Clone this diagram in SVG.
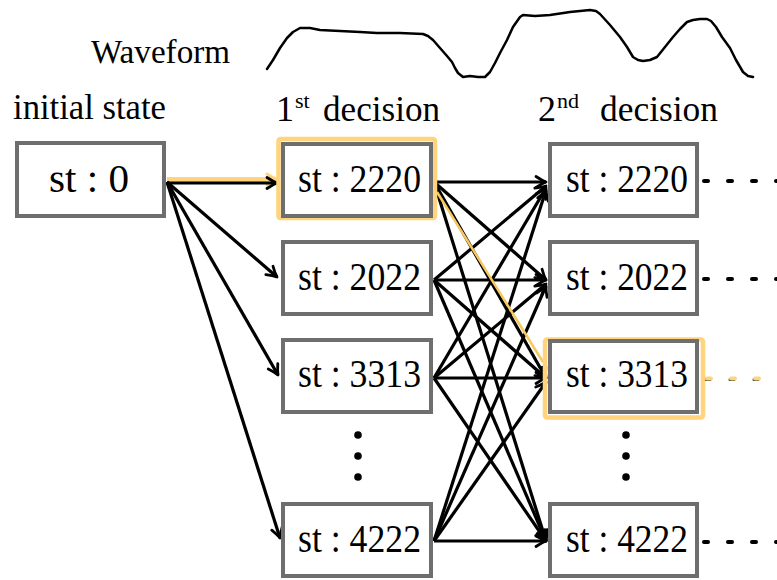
<svg xmlns="http://www.w3.org/2000/svg" width="777" height="580" viewBox="0 0 777 580">
<defs>
<style>
.box{fill:#fff;stroke:#6e6e6e;stroke-width:4}
.hl{fill:none;stroke:#ffd47c;stroke-width:4.5}
.t{font-family:"Liberation Serif","Times New Roman",serif;fill:#000}
.st{font-size:39px;text-anchor:middle}
.lab{font-size:36px}
.sup{font-size:22px}
.e{stroke:#000;stroke-width:3.2;fill:none;marker-end:url(#ah)}
.dots{stroke:#000;stroke-width:4;stroke-linecap:round;stroke-dasharray:4 20;fill:none}
</style>
<marker id="ah" markerUnits="userSpaceOnUse" markerWidth="16" markerHeight="16" refX="12" refY="7" orient="auto" overflow="visible">
<path d="M2,1.5 Q8,5.5 12,7 Q8,8.5 2,12.5" fill="none" stroke="#000" stroke-width="2.8" stroke-linecap="round" stroke-linejoin="round"/>
</marker>
<marker id="ahy" markerUnits="userSpaceOnUse" markerWidth="16" markerHeight="16" refX="12" refY="7" orient="auto" overflow="visible">
<path d="M2,1.5 Q8,5.5 12,7 Q8,8.5 2,12.5" fill="none" stroke="#ffd47c" stroke-width="3" stroke-linecap="round" stroke-linejoin="round"/>
</marker>
</defs>
<rect width="777" height="580" fill="#fff"/>

<g id="waveform">
<text class="t" x="91" y="63" font-size="34" textLength="139" lengthAdjust="spacingAndGlyphs">Waveform</text>
<path d="M267,69 L273,60 L280,48 L287,38 L293,32 L300,28 L310,28 L320,30 L340,31 L360,32 L377,33 L400,33 L423,34 L428,36 L433,40 L440,48 L447,56 L452,62 L455,68 L458,73 L463,77 L470,76 L478,77 L485,77 L490,72 L495,63 L500,53 L507,40 L513,27 L520,17 L523,15 L535,16 L550,15 L570,12 L590,10 L596,11 L600,14 L610,25 L620,37 L627,47 L633,57 L638,60 L643,61 L650,60 L657,57 L665,47 L673,37 L680,29 L687,22 L693,20 L700,19 L707,19 L711,21 L716,27 L722,37 L730,48 L736,60 L743,72 L748,76 L753,77" fill="none" stroke="#000" stroke-width="2.5" stroke-linejoin="round" stroke-linecap="round"/>
</g>

<g id="labels">
<text class="t lab" x="276" y="121">1</text>
<text class="t sup" x="295" y="108">st</text>
<text class="t lab" x="323" y="121" textLength="117" lengthAdjust="spacingAndGlyphs">decision</text>
<text class="t lab" x="538" y="121">2</text>
<text class="t sup" x="557" y="108">nd</text>
<text class="t lab" x="600" y="121" textLength="118" lengthAdjust="spacingAndGlyphs">decision</text>
<text class="t lab" x="13" y="119" textLength="153" lengthAdjust="spacingAndGlyphs">initial state</text>
</g>

<g id="connectors">
<line x1="167" y1="179.5" x2="277" y2="179.5" stroke="#ffd47c" stroke-width="5" marker-end="url(#ahy)"/>
<line class="e" x1="167" y1="183" x2="277" y2="183"/>
<line class="e" x1="167" y1="182" x2="277" y2="277"/>
<line class="e" x1="167" y1="182" x2="278" y2="375"/>
<line class="e" x1="167" y1="182" x2="280" y2="538"/>

<line class="e" x1="434" y1="182" x2="546" y2="182"/>
<line class="e" x1="434" y1="182" x2="546" y2="280"/>
<line class="e" x1="434" y1="182" x2="546" y2="378"/>
<line class="e" x1="434" y1="182" x2="546" y2="541"/>

<line class="e" x1="434" y1="280" x2="546" y2="186"/>
<line class="e" x1="434" y1="280" x2="546" y2="280"/>
<line class="e" x1="434" y1="280" x2="546" y2="378"/>
<line class="e" x1="434" y1="280" x2="546" y2="541"/>

<line class="e" x1="434" y1="378" x2="546" y2="188"/>
<line class="e" x1="434" y1="378" x2="546" y2="284"/>
<line class="e" x1="434" y1="378" x2="546" y2="378"/>
<line class="e" x1="434" y1="378" x2="546" y2="541"/>

<line class="e" x1="434" y1="541" x2="546" y2="190"/>
<line class="e" x1="434" y1="541" x2="546" y2="286"/>
<line class="e" x1="434" y1="541" x2="546" y2="382"/>
<line class="e" x1="434" y1="541" x2="546" y2="541"/>

<line x1="437" y1="192" x2="543" y2="362" stroke="#f7c860" stroke-width="2.5"/>

<line class="dots" x1="704" y1="181" x2="777" y2="181"/>
<line class="dots" x1="704" y1="279" x2="777" y2="279"/>
<line class="dots" x1="704" y1="542" x2="777" y2="542"/>
<line x1="706" y1="379.5" x2="777" y2="379.5" stroke="#333" stroke-width="3" stroke-linecap="round" stroke-dasharray="4 20"/>
<line x1="707" y1="378.5" x2="777" y2="378.5" stroke="#ffd47c" stroke-width="4" stroke-linecap="round" stroke-dasharray="4 20"/>
</g>

<g id="n0">
<rect class="box" x="17" y="143" width="147" height="73"/>
<text class="t st" x="89" y="192" textLength="80" lengthAdjust="spacingAndGlyphs">st : 0</text>
</g>

<g id="n1-2220">
<rect class="hl" x="278.5" y="139" width="156.5" height="79" rx="2"/>
<rect class="box" x="283" y="144" width="148" height="72"/>
<text class="t st" x="359.5" y="192" textLength="123" lengthAdjust="spacingAndGlyphs">st : 2220</text>
</g>
<g id="n1-2022">
<rect class="box" x="283" y="242" width="148" height="72"/>
<text class="t st" x="359.5" y="290" textLength="123" lengthAdjust="spacingAndGlyphs">st : 2022</text>
</g>
<g id="n1-3313">
<rect class="box" x="283" y="340" width="148" height="72"/>
<text class="t st" x="359.5" y="387" textLength="123" lengthAdjust="spacingAndGlyphs">st : 3313</text>
</g>
<g id="n1-dots">
<circle cx="358" cy="435" r="3.8"/>
<circle cx="358" cy="456" r="3.8"/>
<circle cx="358" cy="477" r="3.8"/>
</g>
<g id="n1-4222">
<rect class="box" x="283" y="504" width="148" height="72"/>
<text class="t st" x="359.5" y="552" textLength="123" lengthAdjust="spacingAndGlyphs">st : 4222</text>
</g>

<g id="n2-2220">
<rect class="box" x="550" y="144" width="147" height="72"/>
<text class="t st" x="627" y="192" textLength="122" lengthAdjust="spacingAndGlyphs">st : 2220</text>
</g>
<g id="n2-2022">
<rect class="box" x="550" y="242" width="147" height="72"/>
<text class="t st" x="627" y="290" textLength="122" lengthAdjust="spacingAndGlyphs">st : 2022</text>
</g>
<g id="n2-3313">
<rect class="hl" x="545" y="339.5" width="158" height="78" rx="2"/>
<rect class="box" x="550" y="341" width="147" height="71"/>
<text class="t st" x="627" y="387" textLength="122" lengthAdjust="spacingAndGlyphs">st : 3313</text>
</g>
<g id="n2-dots">
<circle cx="626" cy="435" r="3.8"/>
<circle cx="626" cy="456" r="3.8"/>
<circle cx="626" cy="477" r="3.8"/>
</g>
<g id="n2-4222">
<rect class="box" x="550" y="504" width="147" height="72"/>
<text class="t st" x="627" y="552" textLength="122" lengthAdjust="spacingAndGlyphs">st : 4222</text>
</g>
</svg>
